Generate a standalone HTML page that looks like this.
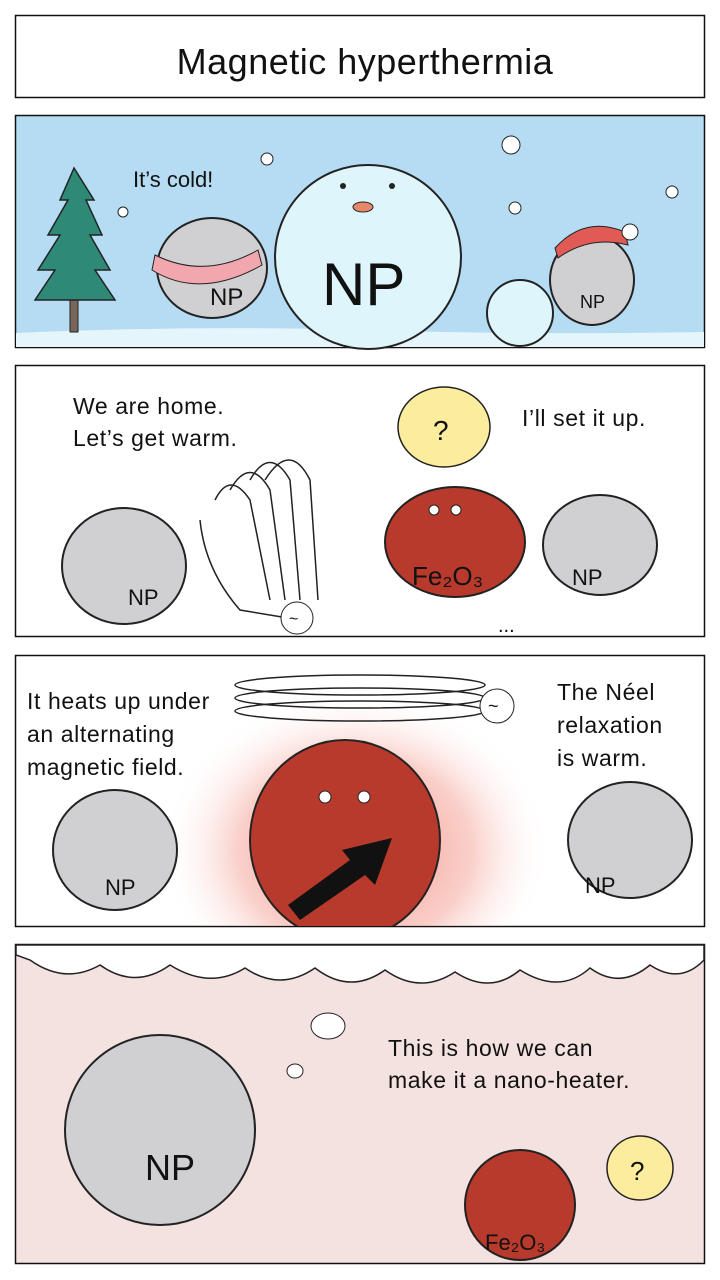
<!DOCTYPE html>
<html><head><meta charset="utf-8"><style>
html,body{margin:0;padding:0;background:#fff;width:720px;height:1280px;overflow:hidden}
svg{display:block}
text{font-family:"Liberation Sans",sans-serif;fill:#111}
.t{font-size:23px;letter-spacing:0.6px}
</style></head><body>
<svg width="720" height="1280" viewBox="0 0 720 1280" xmlns="http://www.w3.org/2000/svg">
<defs>
<radialGradient id="glow" cx="50%" cy="55%" r="50%">
<stop offset="0%" stop-color="#f08070" stop-opacity="0.9"/>
<stop offset="60%" stop-color="#f6b0a6" stop-opacity="0.6"/>
<stop offset="100%" stop-color="#fff" stop-opacity="0"/>
</radialGradient>
<clipPath id="p3"><rect x="16" y="656" width="688" height="270"/></clipPath>
</defs>
<!-- title -->
<rect x="15.5" y="15.5" width="689" height="82" fill="#fff" stroke="#111" stroke-width="1.5"/>
<text x="365" y="74" font-size="36" text-anchor="middle" letter-spacing="0.5">Magnetic hyperthermia</text>

<!-- panel 1 -->
<rect x="15.5" y="115.5" width="689" height="232" fill="#b5dcf3" stroke="#111" stroke-width="1.5"/>
<path d="M16 333 Q200 325 360 330 T704 332 L704 347 L16 347Z" fill="#e4f5fb"/>
<rect x="70" y="280" width="8" height="52" fill="#7a6658" stroke="#222"/>
<polygon points="74,168 60,200 68,200 48,235 60,235 38,270 55,270 35,300 115,300 95,270 110,270 90,235 102,235 86,200 94,200" fill="#2e8a76" stroke="#222" stroke-width="1.5"/>
<text x="133" y="187" font-size="22">It’s cold!</text>
<circle cx="267" cy="159" r="6" fill="#fff" stroke="#222"/>
<circle cx="123" cy="212" r="5" fill="#fff" stroke="#222"/>
<circle cx="511" cy="145" r="9" fill="#fff" stroke="#222"/>
<circle cx="515" cy="208" r="6" fill="#fff" stroke="#222"/>
<circle cx="672" cy="192" r="6" fill="#fff" stroke="#222"/>
<ellipse cx="368" cy="257" rx="93" ry="92" fill="#def5fb" stroke="#222" stroke-width="2"/>
<ellipse cx="363" cy="207" rx="10" ry="5" fill="#e8886a" stroke="#222"/>
<circle cx="343" cy="186" r="3" fill="#222"/><circle cx="392" cy="186" r="3" fill="#222"/>
<text x="322" y="305" font-size="60">NP</text>
<ellipse cx="212" cy="268" rx="55" ry="50" fill="#d0d0d2" stroke="#222" stroke-width="2"/>
<path d="M152 270 Q200 300 262 265 L258 250 Q205 280 155 255Z" fill="#f2a6ad" stroke="#222"/>
<text x="210" y="305" font-size="24">NP</text>
<circle cx="520" cy="313" r="33" fill="#def5fb" stroke="#222" stroke-width="2"/>
<ellipse cx="592" cy="280" rx="42" ry="45" fill="#d0d0d2" stroke="#222" stroke-width="2"/>
<path d="M555 248 Q585 215 625 232 L628 245 Q590 235 558 258Z" fill="#e05a56" stroke="#222"/>
<circle cx="630" cy="232" r="8" fill="#fff" stroke="#222"/>
<text x="580" y="308" font-size="18">NP</text>

<!-- panel 2 -->
<rect x="15.5" y="365.5" width="689" height="271" fill="#fff" stroke="#111" stroke-width="1.5"/>
<text x="73" y="414" class="t">We are home.</text>
<text x="73" y="446" class="t">Let’s get warm.</text>
<text x="522" y="426" class="t">I’ll set it up.</text>
<ellipse cx="444" cy="427" rx="46" ry="40" fill="#fcec9e" stroke="#222" stroke-width="1.5"/>
<text x="433" y="440" font-size="28">?</text>
<ellipse cx="124" cy="566" rx="62" ry="58" fill="#d0d0d2" stroke="#222" stroke-width="2"/>
<text x="128" y="605" font-size="22">NP</text>
<g fill="none" stroke="#222" stroke-width="1.5">
<path d="M215 500 Q230 470 250 500 L270 600"/>
<path d="M230 490 Q250 455 270 490 L285 600"/>
<path d="M250 480 Q270 445 290 480 L300 600"/>
<path d="M265 480 Q290 440 310 480 L318 600"/>
<path d="M200 520 Q205 570 240 610 L300 620"/>
</g>
<circle cx="297" cy="618" r="16" fill="#fff" stroke="#222"/>
<text x="289" y="624" font-size="16">~</text>
<ellipse cx="455" cy="542" rx="70" ry="55" fill="#b83a2c" stroke="#222" stroke-width="2"/>
<circle cx="434" cy="510" r="5" fill="#fff" stroke="#222"/><circle cx="456" cy="510" r="5" fill="#fff" stroke="#222"/>
<text x="412" y="585" font-size="26">Fe₂O₃</text>
<ellipse cx="600" cy="545" rx="57" ry="50" fill="#d0d0d2" stroke="#222" stroke-width="2"/>
<text x="572" y="585" font-size="22">NP</text>
<text x="498" y="632" font-size="20">...</text>

<!-- panel 3 -->
<rect x="15.5" y="655.5" width="689" height="271" fill="#fff" stroke="#111" stroke-width="1.5"/>
<g clip-path="url(#p3)">
<ellipse cx="355" cy="835" rx="195" ry="160" fill="url(#glow)"/>
<ellipse cx="345" cy="840" rx="95" ry="100" fill="#b83a2c" stroke="#222" stroke-width="2"/>
</g>
<g fill="none" stroke="#222" stroke-width="1.5">
<ellipse cx="360" cy="685" rx="125" ry="10"/><ellipse cx="360" cy="698" rx="125" ry="10"/>
<ellipse cx="360" cy="711" rx="125" ry="10"/>
</g>
<circle cx="497" cy="706" r="17" fill="#fff" stroke="#222"/>
<text x="488" y="712" font-size="18">~</text>
<text x="27" y="709" class="t">It heats up under</text>
<text x="27" y="742" class="t">an alternating</text>
<text x="27" y="775" class="t">magnetic field.</text>
<text x="557" y="700" class="t">The Néel</text>
<text x="557" y="733" class="t">relaxation</text>
<text x="557" y="766" class="t">is warm.</text>
<polygon points="288,905 350,860 342,850 392,838 375,885 365,875 300,920" fill="#111"/>
<circle cx="325" cy="797" r="6" fill="#fff" stroke="#222"/><circle cx="364" cy="797" r="6" fill="#fff" stroke="#222"/>
<ellipse cx="115" cy="850" rx="62" ry="60" fill="#d0d0d2" stroke="#222" stroke-width="2"/>
<text x="105" y="895" font-size="22">NP</text>
<ellipse cx="630" cy="840" rx="62" ry="58" fill="#d0d0d2" stroke="#222" stroke-width="2"/>
<text x="585" y="893" font-size="22">NP</text>

<!-- panel 4 -->
<rect x="15.5" y="944.5" width="689" height="319" fill="#f4e2e0" stroke="#111" stroke-width="1.5"/>
<path d="M16 945 L704 945 L704 960 Q680 985 650 965 Q620 990 590 968 Q560 995 520 970 Q490 995 455 972 Q420 995 385 970 Q350 995 315 968 Q280 992 245 968 Q210 990 170 965 Q135 990 100 965 Q65 985 30 960 L16 955Z" fill="#fff" stroke="#222" stroke-width="1.5"/>
<ellipse cx="328" cy="1026" rx="17" ry="13" fill="#fff" stroke="#222"/>
<ellipse cx="295" cy="1071" rx="8" ry="7" fill="#fff" stroke="#222"/>
<ellipse cx="160" cy="1130" rx="95" ry="95" fill="#d0d0d2" stroke="#222" stroke-width="2"/>
<text x="145" y="1180" font-size="36">NP</text>
<text x="388" y="1056" class="t">This is how we can</text>
<text x="388" y="1088" class="t">make it a nano-heater.</text>
<ellipse cx="520" cy="1205" rx="55" ry="55" fill="#b83a2c" stroke="#222" stroke-width="2"/>
<text x="485" y="1250" font-size="22">Fe₂O₃</text>
<ellipse cx="640" cy="1168" rx="33" ry="32" fill="#fcec9e" stroke="#222" stroke-width="1.5"/>
<text x="630" y="1180" font-size="26">?</text>
</svg>
</body></html>
